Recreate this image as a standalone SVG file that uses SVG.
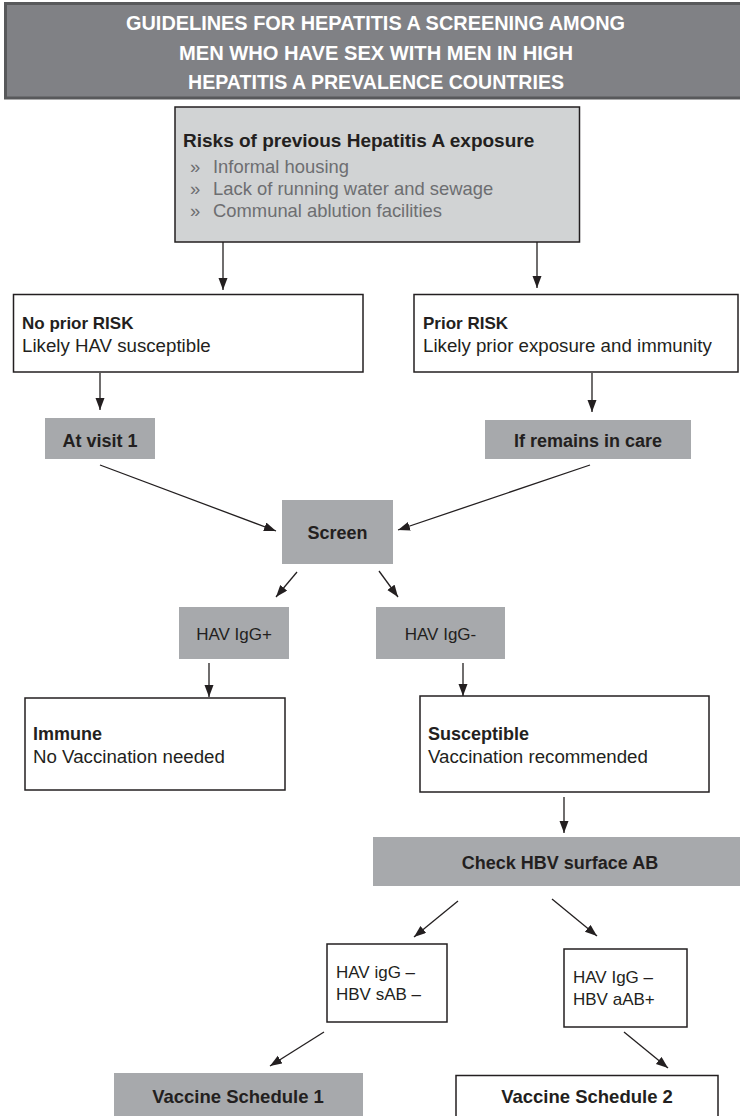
<svg xmlns="http://www.w3.org/2000/svg" width="740" height="1116" viewBox="0 0 740 1116">
<defs>
<marker id="ah" markerUnits="userSpaceOnUse" markerWidth="13" markerHeight="10" refX="12" refY="4.5" orient="auto">
<path d="M0,0 L12,4.5 L0,9 z" fill="#231f20"/>
</marker>
<style>
.t{font-family:"Liberation Sans",Arial,sans-serif;fill:#231f20;}
.b{font-weight:bold;font-size:18px;}
.r{font-size:18.7px;}
.s{font-size:17px;}
.bul{font-size:18.4px;fill:#6d6e71;}
.title{font-family:"Liberation Sans",Arial,sans-serif;font-weight:bold;font-size:20px;fill:#ffffff;}
.wbox{fill:#ffffff;stroke:#231f20;stroke-width:1.5;}
.gbox{fill:#a7a9ac;}
.conn line{stroke:#231f20;stroke-width:1.3;marker-end:url(#ah);}
</style>
</defs>
<rect width="740" height="1116" fill="#ffffff"/>
<g id="title">
<rect x="5.5" y="3.5" width="740" height="94.5" fill="#808185" stroke="#58595b" stroke-width="3"/>
<text class="title" x="375.5" y="30" text-anchor="middle" textLength="499" lengthAdjust="spacingAndGlyphs">GUIDELINES FOR HEPATITIS A SCREENING AMONG</text>
<text class="title" x="376" y="60" text-anchor="middle" textLength="394" lengthAdjust="spacingAndGlyphs">MEN WHO HAVE SEX WITH MEN IN HIGH</text>
<text class="title" x="376" y="89" text-anchor="middle" textLength="376" lengthAdjust="spacingAndGlyphs">HEPATITIS A PREVALENCE COUNTRIES</text>
</g>
<g id="risks">
<rect x="175" y="107" width="404.5" height="135" fill="#d1d3d4" stroke="#231f20" stroke-width="1.5"/>
<text class="t b" x="183" y="147" style="font-size:19px">Risks of previous Hepatitis A exposure</text>
<text class="t bul" x="190" y="173">»</text><text class="t bul" x="213" y="173">Informal housing</text>
<text class="t bul" x="190" y="195">»</text><text class="t bul" x="213" y="195">Lack of running water and sewage</text>
<text class="t bul" x="190" y="217">»</text><text class="t bul" x="213" y="217">Communal ablution facilities</text>
</g>
<g id="noprior">
<rect class="wbox" x="13.5" y="294.5" width="349.5" height="77.5"/>
<text class="t b" x="22" y="329" style="font-size:17px">No prior RISK</text>
<text class="t r" x="22" y="352">Likely HAV susceptible</text>
</g>
<g id="prior">
<rect class="wbox" x="414" y="294.5" width="324" height="77.5"/>
<text class="t b" x="423" y="329" style="font-size:17px">Prior RISK</text>
<text class="t r" x="423" y="352">Likely prior exposure and immunity</text>
</g>
<g id="atvisit">
<rect class="gbox" x="45" y="418" width="110" height="41"/>
<text class="t b" x="100" y="447" text-anchor="middle">At visit 1</text>
</g>
<g id="remains">
<rect class="gbox" x="485" y="420" width="206" height="39"/>
<text class="t b" x="588" y="447" text-anchor="middle">If remains in care</text>
</g>
<g id="screen">
<rect class="gbox" x="282" y="500" width="111" height="64"/>
<text class="t b" x="337.5" y="539" text-anchor="middle">Screen</text>
</g>
<g id="igg-pos">
<rect class="gbox" x="179" y="607" width="110" height="52"/>
<text class="t s" x="234" y="640" text-anchor="middle">HAV IgG+</text>
</g>
<g id="igg-neg">
<rect class="gbox" x="376" y="607" width="129" height="52"/>
<text class="t s" x="440.5" y="640" text-anchor="middle">HAV IgG-</text>
</g>
<g id="immune">
<rect class="wbox" x="25" y="698" width="260" height="92"/>
<text class="t b" x="33" y="740">Immune</text>
<text class="t r" x="33" y="763">No Vaccination needed</text>
</g>
<g id="susceptible">
<rect class="wbox" x="420" y="696" width="289" height="96"/>
<text class="t b" x="428" y="740">Susceptible</text>
<text class="t r" x="428" y="763">Vaccination recommended</text>
</g>
<g id="checkhbv">
<rect class="gbox" x="373" y="837" width="367" height="49"/>
<text class="t b" x="560" y="869" text-anchor="middle">Check HBV surface AB</text>
</g>
<g id="res1">
<rect class="wbox" x="327" y="944" width="120" height="78"/>
<text class="t s" x="336" y="978">HAV igG –</text>
<text class="t s" x="336" y="1000">HBV sAB –</text>
</g>
<g id="res2">
<rect class="wbox" x="564" y="949" width="123" height="78"/>
<text class="t s" x="573" y="983">HAV IgG –</text>
<text class="t s" x="573" y="1005">HBV aAB+</text>
</g>
<g id="vs1">
<rect class="gbox" x="114" y="1073" width="249" height="50"/>
<text class="t b" x="238" y="1103" text-anchor="middle" style="font-size:18.5px">Vaccine Schedule 1</text>
</g>
<g id="vs2">
<rect class="wbox" x="456" y="1075.5" width="262" height="50"/>
<text class="t b" x="587" y="1103" text-anchor="middle" style="font-size:18.5px">Vaccine Schedule 2</text>
</g>
<g id="connectors" class="conn">
<line x1="223" y1="242" x2="223" y2="290"/>
<line x1="537" y1="242" x2="537" y2="288"/>
<line x1="100" y1="373" x2="100" y2="410"/>
<line x1="592" y1="373" x2="592" y2="412"/>
<line x1="100" y1="465" x2="276" y2="531"/>
<line x1="590" y1="465" x2="398" y2="530"/>
<line x1="297" y1="572" x2="276" y2="597"/>
<line x1="379" y1="571" x2="398" y2="597"/>
<line x1="209" y1="663" x2="209" y2="697"/>
<line x1="463" y1="663" x2="463" y2="696"/>
<line x1="564" y1="797" x2="564" y2="833"/>
<line x1="458" y1="901" x2="414" y2="937"/>
<line x1="552" y1="899" x2="597" y2="936"/>
<line x1="324" y1="1032" x2="270" y2="1066"/>
<line x1="624" y1="1032" x2="668" y2="1068"/>
</g>
</svg>
